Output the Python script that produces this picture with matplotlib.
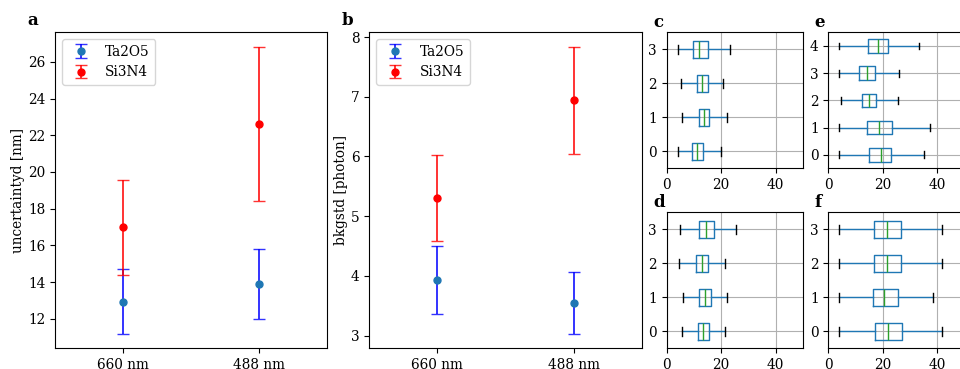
import matplotlib
matplotlib.use("Agg")
import matplotlib.pyplot as plt

plt.rcParams['font.family'] = ['DejaVu Serif']
plt.rcParams['font.size'] = 9.8

# ---- data ----
wavelengths = ['660 nm', '488 nm']
ta_unc = [12.93, 13.88]
ta_unc_err = [1.76, 1.92]
si_unc = [16.98, 22.62]
si_unc_err = [2.58, 4.21]

ta_bkg = [3.93, 3.547]
ta_bkg_err = [0.575, 0.52]
si_bkg = [5.31, 6.945]
si_bkg_err = [0.72, 0.895]

# box stats: whislo, q1, med, q3, whishi  (rows 0..n-1)
c_stats = [[4.05, 9.2, 11.3, 13.5, 20.0],
           [5.5, 11.8, 13.6, 15.7, 22.0],
           [5.2, 11.0, 12.9, 15.1, 20.6],
           [4.05, 9.6, 12.0, 15.1, 23.1]]
d_stats = [[5.6, 11.5, 13.4, 15.5, 21.5],
           [5.9, 12.0, 13.9, 16.2, 22.3],
           [4.4, 10.6, 12.9, 15.1, 21.6],
           [5.0, 12.0, 14.5, 17.4, 25.6]]
e_stats = [[4.06, 14.9, 19.3, 23.1, 35.3],
           [4.06, 14.1, 18.6, 23.5, 37.5],
           [4.8, 12.5, 15.0, 17.7, 25.5],
           [4.06, 11.4, 14.4, 17.2, 26.0],
           [4.06, 14.5, 18.1, 21.9, 33.2]]
f_stats = [[3.9, 17.0, 21.8, 27.1, 41.8],
           [3.9, 16.5, 20.3, 25.5, 38.5],
           [3.9, 16.7, 21.4, 26.8, 41.8],
           [3.9, 16.7, 21.4, 26.8, 41.8]]

W, H = 960, 369
fig = plt.figure(figsize=(W / 100, H / 100), dpi=100)


def px_axes(left, top, right, bottom):
    return fig.add_axes([left / W, (H - bottom) / H, (right - left) / W, (bottom - top) / H])


def label(ax, s):
    ax.text(-0.1, 1.012, s, transform=ax.transAxes, fontsize=12, fontweight='bold',
            ha='left', va='bottom')


def err_panel(ax, ta, ta_e, si, si_e, ylabel):
    x = list(range(len(wavelengths)))
    ax.errorbar(x, ta, yerr=ta_e, fmt='o', color='C0', ecolor=(0, 0, 1, 0.8),
                capsize=4, markersize=5, elinewidth=1.4, label='Ta2O5')
    ax.errorbar(x, si, yerr=si_e, fmt='o', color='red', ecolor=(1, 0, 0, 0.8),
                capsize=4, markersize=5, elinewidth=1.4, label='Si3N4')
    ax.set_xticks(x)
    ax.set_xticklabels(wavelengths)
    ax.set_xlim(-0.5, len(x) - 0.5)
    ax.set_ylabel(ylabel, labelpad=2)
    ax.legend(loc='upper left')


def box_panel(ax, stats):
    n = len(stats)
    bs = [dict(whislo=s[0], q1=s[1], med=s[2], q3=s[3], whishi=s[4], fliers=[]) for s in stats]
    ax.bxp(bs, positions=list(range(n)), widths=0.5, orientation='horizontal',
           showfliers=False, manage_ticks=False,
           boxprops=dict(color='C0'), whiskerprops=dict(color='C0'),
           capprops=dict(color='black'), medianprops=dict(color='C2'))
    ax.set_yticks(list(range(n)))
    ax.set_yticklabels([str(i) for i in range(n)])
    ax.set_ylim(-0.5, n - 0.5)
    ax.set_xlim(0, 50)
    ax.set_xticks([0, 20, 40])
    ax.grid(True)
    ax.set_axisbelow(True)


ax_a = px_axes(55, 32.3, 326.7, 348.3)
err_panel(ax_a, ta_unc, ta_unc_err, si_unc, si_unc_err, 'uncertaintyd [nm]')
label(ax_a, 'a')

ax_b = px_axes(369.3, 32.3, 641.7, 348.3)
err_panel(ax_b, ta_bkg, ta_bkg_err, si_bkg, si_bkg_err, 'bkgstd [photon]')
label(ax_b, 'b')

ax_c = px_axes(666.7, 32.3, 802.7, 168.3)
box_panel(ax_c, c_stats)
label(ax_c, 'c')

ax_d = px_axes(666.7, 212.3, 802.7, 348.3)
box_panel(ax_d, d_stats)
label(ax_d, 'd')

ax_e = px_axes(828.3, 32.3, 964.3, 168.3)
box_panel(ax_e, e_stats)
label(ax_e, 'e')

ax_f = px_axes(828.3, 212.3, 964.3, 348.3)
box_panel(ax_f, f_stats)
label(ax_f, 'f')

fig.savefig('out.png', dpi=100)
